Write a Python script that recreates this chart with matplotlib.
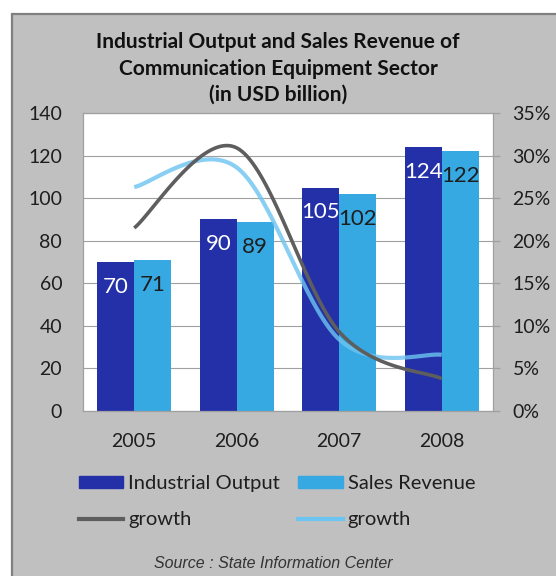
import matplotlib
matplotlib.use("Agg")
import matplotlib.pyplot as plt
from matplotlib.patches import Rectangle
from matplotlib.lines import Line2D
from matplotlib.ticker import FuncFormatter
import numpy as np

years = ['2005', '2006', '2007', '2008']
industrial_output = [70, 90, 105, 124]
sales_revenue = [71, 89, 102, 122]
output_growth = [21.5, 30.9, 9.3, 3.8]   # %
sales_growth = [26.3, 28.6, 8.4, 6.6]    # %

dark_blue = '#2330A8'
light_blue = '#36A9E3'
grey_line = '#5E5E5E'
light_line = '#6CC4F0'
txt = '#1E1E1E'

plt.rcParams['font.family'] = ['Lato', 'DejaVu Sans']


def smooth(xs, ys, n=40):
    # excel-like smoothed line: cubic bezier through each point
    xs = np.asarray(xs, float)
    ys = np.asarray(ys, float)
    px = np.concatenate([[xs[0]], xs, [xs[-1]]])
    py = np.concatenate([[ys[0]], ys, [ys[-1]]])
    outx, outy = [], []
    t = np.linspace(0, 1, n)
    for i in range(1, len(px) - 2):
        p0 = np.array([px[i], py[i]])
        p3 = np.array([px[i + 1], py[i + 1]])
        c1 = p0 + (np.array([px[i + 1], py[i + 1]]) - np.array([px[i - 1], py[i - 1]])) / 6
        c2 = p3 - (np.array([px[i + 2], py[i + 2]]) - np.array([px[i], py[i]])) / 6
        for tt in t:
            b = ((1 - tt) ** 3) * p0 + 3 * ((1 - tt) ** 2) * tt * c1 + 3 * (1 - tt) * tt ** 2 * c2 + tt ** 3 * p3
            outx.append(b[0])
            outy.append(b[1])
    return np.array(outx), np.array(outy)


fig = plt.figure(figsize=(5.56, 5.76), dpi=100)
fig.patch.set_facecolor('white')
fig.patches.append(Rectangle((12 / 556, -0.02), 1.0, 1 - 14 / 576 + 0.02,
                             transform=fig.transFigure, facecolor='#C0C0C0',
                             edgecolor='#7F7F7F', linewidth=1.6, zorder=-10))

ax = fig.add_axes([83 / 556, 1 - 411 / 576, 410 / 556, 298 / 576])
ax.set_facecolor('white')
x = np.arange(len(years))
w = 0.36
b1 = ax.bar(x - w / 2, industrial_output, w, color=dark_blue, zorder=2)
b2 = ax.bar(x + w / 2, sales_revenue, w, color=light_blue, zorder=2)

ax.set_xlim(-0.5, 3.5)
ax.set_ylim(0, 140)
ax.set_yticks(range(0, 141, 20))
ax.set_xticks(x)
ax.set_xticklabels(years)
ax.yaxis.grid(True, color='#A0A0A0', linewidth=0.8)
ax.set_axisbelow(True)
for s in ax.spines.values():
    s.set_color('#A0A0A0')
    s.set_linewidth(0.9)
ax.tick_params(axis='y', length=0, pad=15, labelsize=14, labelcolor=txt)
ax.tick_params(axis='x', length=0, pad=16, labelsize=14, labelcolor=txt)

for bar, v in zip(b1, industrial_output):
    ax.annotate(str(v), (bar.get_x() + bar.get_width() / 2, v), xytext=(0, -18),
                textcoords='offset points', ha='center', va='center',
                color='white', fontsize=16)
for bar, v in zip(b2, sales_revenue):
    ax.annotate(str(v), (bar.get_x() + bar.get_width() / 2, v), xytext=(0, -18),
                textcoords='offset points', ha='center', va='center',
                color=txt, fontsize=16)

ax2 = ax.twinx()
ax2.set_ylim(0, 35)
ax2.set_yticks(range(0, 36, 5))
ax2.yaxis.set_major_formatter(FuncFormatter(lambda v, p: '%d%%' % v))
ax2.tick_params(axis='y', length=5, width=0.9, color='#A0A0A0', pad=9,
                labelsize=14, labelcolor=txt)
for s in ax2.spines.values():
    s.set_visible(False)

sx, sy = smooth(x, sales_growth)
ax2.plot(sx, sy, color=light_line, linewidth=3.0, alpha=0.8, solid_capstyle='butt')
gx, gy = smooth(x, output_growth)
ax2.plot(gx, gy, color=grey_line, linewidth=2.6, solid_capstyle='butt')

fig.text(0.5, 1 - 101 / 576, 'Industrial Output and Sales Revenue of\nCommunication Equipment Sector\n(in USD billion)',
         ha='center', va='baseline', fontsize=15, fontweight='bold', color='#111111',
         linespacing=1.4)

handles = [Rectangle((0, 0), 1, 1, color=dark_blue),
           Line2D([], [], color=grey_line, linewidth=3),
           Rectangle((0, 0), 1, 1, color=light_blue),
           Line2D([], [], color=light_line, linewidth=3)]
labels = ['Industrial Output', 'growth', 'Sales Revenue', 'growth']
fig.legend(handles, labels, loc='upper left', bbox_to_anchor=(79 / 556, 1 - 475 / 576),
           ncol=2, frameon=False, fontsize=14.5, handlelength=2.2, handleheight=0.55,
           handletextpad=0.25, columnspacing=0.9, labelspacing=0.95, borderpad=0,
           borderaxespad=0, labelcolor=txt)

fig.text(273 / 556, 1 - 563 / 576, 'Source : State Information Center', ha='center',
         va='center', fontsize=11.5, style='italic', family='Liberation Sans', color='#333333')

fig.savefig('out.png', dpi=100)
